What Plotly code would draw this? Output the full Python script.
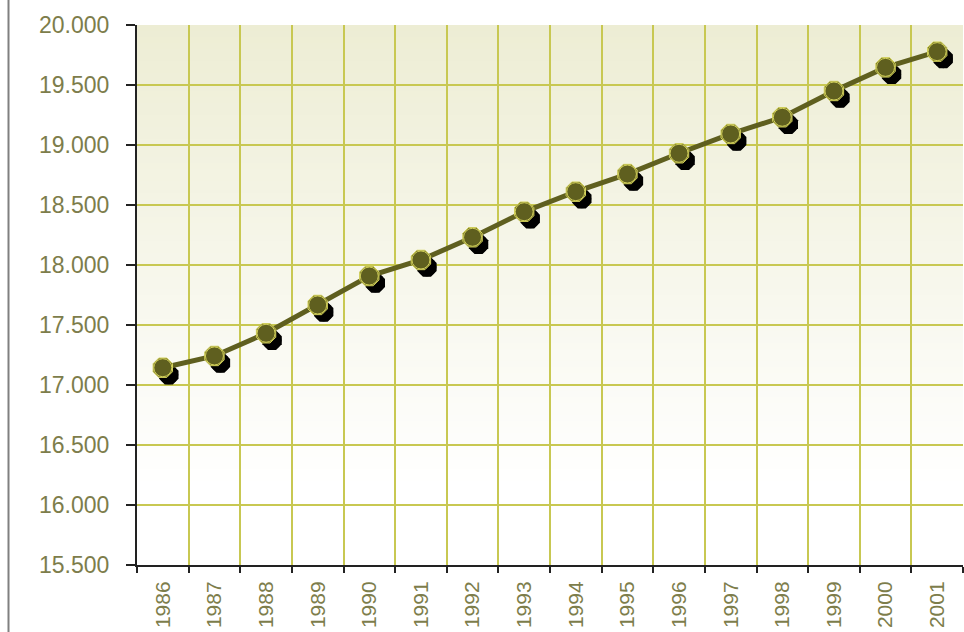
import plotly.graph_objects as go

years = [str(y) for y in range(1986, 2002)]
values = [17144, 17242, 17431, 17667, 17908, 18042, 18231, 18444,
          18611, 18758, 18931, 19092, 19231, 19450, 19647, 19778]
y_min, y_max, y_step = 15500, 20000, 500

W, H = 964, 632
ML, MR, MT, MB = 137, 1, 25, 67
plot_w = W - ML - MR
plot_h = H - MT - MB
n = len(years)
px_per_cat = plot_w / n
units_per_px = (y_max - y_min) / plot_h
shadow_dx, shadow_dy = 6, 7

olive = "#5f5f1f"
grid = "#c8c852"
label_col = "#7d7d4b"
yfont = dict(family="Liberation Sans, Arial, sans-serif", size=23, color=label_col)
xfont = dict(family="Liberation Sans, Arial, sans-serif", size=21, color=label_col)

fig = go.Figure()

# dummy trace to populate categories on main axes
fig.add_trace(go.Scatter(x=years, y=values, mode="lines", opacity=0,
                         hoverinfo="skip", showlegend=False, xaxis="x", yaxis="y"))
# shadow
fig.add_trace(go.Scatter(x=years, y=values, mode="markers",
                         marker=dict(symbol="octagon", size=21, color="black", line=dict(width=0)),
                         showlegend=False, hoverinfo="skip", xaxis="x2", yaxis="y2"))
fig.add_trace(go.Scatter(x=years, y=values, mode="markers",
                         marker=dict(symbol="circle", size=19, color="black", line=dict(width=0)),
                         showlegend=False, hoverinfo="skip", xaxis="x2", yaxis="y2"))
# main line
fig.add_trace(go.Scatter(x=years, y=values, mode="lines",
                         line=dict(color=olive, width=5),
                         showlegend=False, xaxis="x3", yaxis="y3"))
fig.add_trace(go.Scatter(x=years, y=values, mode="markers",
                         marker=dict(symbol="octagon", size=21, color=olive,
                                     line=dict(width=1, color="#d2d05a")),
                         showlegend=False, hoverinfo="skip", xaxis="x3", yaxis="y3"))
fig.add_trace(go.Scatter(x=years, y=values, mode="markers",
                         marker=dict(symbol="circle", size=18, color=olive,
                                     line=dict(width=1, color="#d2d05a")),
                         showlegend=False, xaxis="x3", yaxis="y3"))

xr = [-0.5, n - 0.5]
yr = [y_min, y_max]
sx = shadow_dx / px_per_cat
sy = shadow_dy * units_per_px

# background gradient bands
shapes = []
N = 90
top = (237, 237, 212)
white_at = 0.15
for i in range(N):
    f0 = i / N
    f1 = (i + 1) / N
    fm = (f0 + f1) / 2
    t = max(0.0, (fm - white_at) / (1 - white_at))
    c = tuple(round(255 + (top[k] - 255) * t) for k in range(3))
    shapes.append(dict(type="rect", xref="paper", yref="paper", x0=0, x1=1, y0=f0, y1=f1,
                       fillcolor="rgb(%d,%d,%d)" % c, line=dict(width=0), layer="below"))
# left frame line
shapes.append(dict(type="line", xref="paper", yref="paper",
                   x0=(8.5 - ML) / plot_w, x1=(8.5 - ML) / plot_w,
                   y0=-MB / plot_h, y1=1 + MT / plot_h,
                   line=dict(color="#808080", width=2)))

fig.update_layout(
    width=W, height=H,
    margin=dict(l=ML, r=MR, t=MT, b=MB),
    paper_bgcolor="white", plot_bgcolor="white",
    separators=",.",
    shapes=shapes,
    xaxis=dict(type="category", categoryorder="array", categoryarray=years, range=xr,
               tickson="boundaries", ticks="outside", ticklen=6, tickwidth=2, tickcolor="#222",
               showgrid=True, gridcolor=grid, gridwidth=2,
               showline=True, linecolor="#222", linewidth=2,
               tickangle=-90, tickfont=xfont, ticklabelstandoff=6,
               zeroline=False, fixedrange=True),
    yaxis=dict(range=yr, dtick=y_step, tick0=y_min, tickformat=",d",
               ticks="outside", ticklen=9, tickwidth=2, tickcolor="#222",
               showgrid=True, gridcolor=grid, gridwidth=2,
               showline=True, linecolor="#222", linewidth=2,
               tickfont=yfont, ticklabelstandoff=12, zeroline=False, fixedrange=True),
    xaxis2=dict(type="category", categoryorder="array", categoryarray=years,
                range=[xr[0] - sx, xr[1] - sx], overlaying="x", visible=False, fixedrange=True),
    yaxis2=dict(range=[yr[0] + sy, yr[1] + sy], overlaying="y", visible=False, fixedrange=True),
    xaxis3=dict(type="category", categoryorder="array", categoryarray=years,
                range=xr, overlaying="x", visible=False, fixedrange=True),
    yaxis3=dict(range=yr, overlaying="y", visible=False, fixedrange=True),
)

fig.write_html("out.html", config={"displayModeBar": False},
               post_script="document.body.style.margin='0';document.body.style.overflow='hidden';")
